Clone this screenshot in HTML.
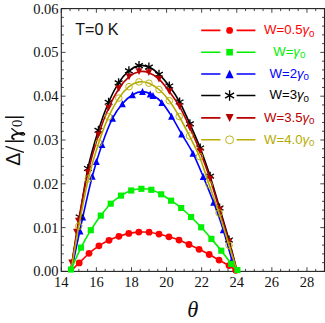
<!DOCTYPE html>
<html><head><meta charset="utf-8"><title>chart</title>
<style>html,body{margin:0;padding:0;background:#fff;overflow:hidden}svg{display:block;position:absolute;left:0;top:0}</style>
</head><body>
<svg width="325" height="323" viewBox="0 0 325 323">
<rect width="325" height="323" fill="#fff"/>
<path d="M61.3 271.4v-4.2M61.3 8.6v4.2M70.07 271.4v-2.5M70.07 8.6v2.5M78.85 271.4v-2.5M78.85 8.6v2.5M87.62 271.4v-2.5M87.62 8.6v2.5M96.39 271.4v-4.2M96.39 8.6v4.2M105.17 271.4v-2.5M105.17 8.6v2.5M113.94 271.4v-2.5M113.94 8.6v2.5M122.71 271.4v-2.5M122.71 8.6v2.5M131.49 271.4v-4.2M131.49 8.6v4.2M140.26 271.4v-2.5M140.26 8.6v2.5M149.03 271.4v-2.5M149.03 8.6v2.5M157.81 271.4v-2.5M157.81 8.6v2.5M166.58 271.4v-4.2M166.58 8.6v4.2M175.35 271.4v-2.5M175.35 8.6v2.5M184.13 271.4v-2.5M184.13 8.6v2.5M192.9 271.4v-2.5M192.9 8.6v2.5M201.67 271.4v-4.2M201.67 8.6v4.2M210.45 271.4v-2.5M210.45 8.6v2.5M219.22 271.4v-2.5M219.22 8.6v2.5M227.99 271.4v-2.5M227.99 8.6v2.5M236.77 271.4v-4.2M236.77 8.6v4.2M245.54 271.4v-2.5M245.54 8.6v2.5M254.31 271.4v-2.5M254.31 8.6v2.5M263.09 271.4v-2.5M263.09 8.6v2.5M271.86 271.4v-4.2M271.86 8.6v4.2M280.63 271.4v-2.5M280.63 8.6v2.5M289.41 271.4v-2.5M289.41 8.6v2.5M298.18 271.4v-2.5M298.18 8.6v2.5M306.95 271.4v-4.2M306.95 8.6v4.2M315.73 271.4v-2.5M315.73 8.6v2.5M324.5 271.4v-2.5M324.5 8.6v2.5M61.3 271.4h4.2M324.5 271.4h-4.2M61.3 262.64h2.5M324.5 262.64h-2.5M61.3 253.88h2.5M324.5 253.88h-2.5M61.3 245.12h2.5M324.5 245.12h-2.5M61.3 236.36h2.5M324.5 236.36h-2.5M61.3 227.6h4.2M324.5 227.6h-4.2M61.3 218.84h2.5M324.5 218.84h-2.5M61.3 210.08h2.5M324.5 210.08h-2.5M61.3 201.32h2.5M324.5 201.32h-2.5M61.3 192.56h2.5M324.5 192.56h-2.5M61.3 183.8h4.2M324.5 183.8h-4.2M61.3 175.04h2.5M324.5 175.04h-2.5M61.3 166.28h2.5M324.5 166.28h-2.5M61.3 157.52h2.5M324.5 157.52h-2.5M61.3 148.76h2.5M324.5 148.76h-2.5M61.3 140h4.2M324.5 140h-4.2M61.3 131.24h2.5M324.5 131.24h-2.5M61.3 122.48h2.5M324.5 122.48h-2.5M61.3 113.72h2.5M324.5 113.72h-2.5M61.3 104.96h2.5M324.5 104.96h-2.5M61.3 96.2h4.2M324.5 96.2h-4.2M61.3 87.44h2.5M324.5 87.44h-2.5M61.3 78.68h2.5M324.5 78.68h-2.5M61.3 69.92h2.5M324.5 69.92h-2.5M61.3 61.16h2.5M324.5 61.16h-2.5M61.3 52.4h4.2M324.5 52.4h-4.2M61.3 43.64h2.5M324.5 43.64h-2.5M61.3 34.88h2.5M324.5 34.88h-2.5M61.3 26.12h2.5M324.5 26.12h-2.5M61.3 17.36h2.5M324.5 17.36h-2.5M61.3 8.6h4.2M324.5 8.6h-4.2" stroke="#333" stroke-width="0.9" fill="none"/>
<rect x="61.3" y="8.6" width="263.2" height="262.8" fill="none" stroke="#222" stroke-width="1.1"/>
<path fill="none" stroke="#0000ff" stroke-width="1.6" stroke-linejoin="round" d="M71.3 271C72.91 263.44 79.86 230.26 82.8 217C85.74 203.74 89.61 186.45 92.3 176.3C94.99 166.15 99.16 152.63 102 144.5C104.84 136.37 109.74 123.9 112.6 118.2C115.46 112.5 119.61 107.08 122.4 103.8C125.19 100.52 129.69 96.51 132.5 94.8C135.31 93.09 139.77 91.6 142.5 91.6C145.23 91.6 149.3 93.29 152 94.8C154.7 96.31 159.07 99.4 161.8 102.4C164.53 105.4 168.73 111.78 171.5 116.2C174.27 120.62 178.6 128.82 181.6 134C184.6 139.18 189.88 147.24 192.9 153.2C195.92 159.16 200.3 169.73 203.2 176.6C206.1 183.47 210.8 194.87 213.6 202.3C216.4 209.73 220.64 221.61 223.2 229.7C225.76 237.79 230.14 254.32 231.9 260.1C233.66 265.88 235.25 269.47 235.8 271"/>
<path d="M82.8 213.51L86.2 220.49L79.4 220.49Z" fill="#0000ff"/>
<path d="M92.3 172.81L95.7 179.79L88.9 179.79Z" fill="#0000ff"/>
<path d="M102 141.01L105.4 147.99L98.6 147.99Z" fill="#0000ff"/>
<path d="M112.6 114.71L116 121.69L109.2 121.69Z" fill="#0000ff"/>
<path d="M122.4 100.31L125.8 107.29L119 107.29Z" fill="#0000ff"/>
<path d="M132.5 91.31L135.9 98.29L129.1 98.29Z" fill="#0000ff"/>
<path d="M142.5 88.11L145.9 95.09L139.1 95.09Z" fill="#0000ff"/>
<path d="M161.8 98.91L165.2 105.89L158.4 105.89Z" fill="#0000ff"/>
<path d="M171.5 112.71L174.9 119.69L168.1 119.69Z" fill="#0000ff"/>
<path d="M181.6 130.51L185 137.49L178.2 137.49Z" fill="#0000ff"/>
<path d="M192.9 149.71L196.3 156.69L189.5 156.69Z" fill="#0000ff"/>
<path d="M203.2 173.11L206.6 180.09L199.8 180.09Z" fill="#0000ff"/>
<path d="M213.6 198.81L217 205.79L210.2 205.79Z" fill="#0000ff"/>
<path d="M223.2 226.21L226.6 233.19L219.8 233.19Z" fill="#0000ff"/>
<path d="M231.9 256.61L235.3 263.59L228.5 263.59Z" fill="#0000ff"/>
<path d="M80.1 227.51L83.5 234.49L76.7 234.49Z" fill="#0000ff"/>
<path d="M96.4 158.01L99.8 164.99L93 164.99Z" fill="#0000ff"/>
<path d="M150.2 90.41L153.6 97.39L146.8 97.39Z" fill="#0000ff"/>
<path d="M153 92.01L156.4 98.99L149.6 98.99Z" fill="#0000ff"/>
<path fill="none" stroke="#000000" stroke-width="1.6" stroke-linejoin="round" d="M70.6 271C71.86 263.44 77.18 231.35 79.6 217C82.02 202.65 85.27 180.64 87.9 168.5C90.53 156.36 95.5 139.57 98.4 130.3C101.3 121.03 105.77 108.94 108.6 102.3C111.43 95.66 115.76 87.3 118.6 82.9C121.44 78.5 126.04 73.32 128.9 70.9C131.76 68.48 136.2 66.13 139 65.6C141.8 65.07 146.1 65.88 148.9 67.1C151.7 68.32 156.14 71.65 159 74.3C161.86 76.95 166.42 82.12 169.3 86C172.18 89.88 176.72 96.69 179.6 102C182.48 107.31 187.02 117.46 189.9 123.9C192.78 130.34 197.37 140.68 200.2 148C203.03 155.32 207.38 167.8 210.1 176.2C212.82 184.6 216.95 199.07 219.6 208C222.25 216.93 226.56 231.18 229 240C231.44 248.82 235.88 266.66 237 271"/>
<path d="M79.6 212.44V221.56M75.73 214.76L83.47 219.24M75.73 219.24L83.47 214.76" stroke="#000000" stroke-width="1.35" fill="none"/>
<path d="M87.9 163.94V173.06M84.03 166.26L91.77 170.74M84.03 170.74L91.77 166.26" stroke="#000000" stroke-width="1.35" fill="none"/>
<path d="M98.4 125.74V134.86M94.53 128.06L102.27 132.54M94.53 132.54L102.27 128.06" stroke="#000000" stroke-width="1.35" fill="none"/>
<path d="M108.6 97.74V106.86M104.73 100.06L112.47 104.54M104.73 104.54L112.47 100.06" stroke="#000000" stroke-width="1.35" fill="none"/>
<path d="M118.6 78.34V87.46M114.73 80.66L122.47 85.14M114.73 85.14L122.47 80.66" stroke="#000000" stroke-width="1.35" fill="none"/>
<path d="M128.9 66.34V75.46M125.03 68.66L132.77 73.14M125.03 73.14L132.77 68.66" stroke="#000000" stroke-width="1.35" fill="none"/>
<path d="M139 61.04V70.16M135.13 63.36L142.87 67.84M135.13 67.84L142.87 63.36" stroke="#000000" stroke-width="1.35" fill="none"/>
<path d="M148.9 62.54V71.66M145.03 64.86L152.77 69.34M145.03 69.34L152.77 64.86" stroke="#000000" stroke-width="1.35" fill="none"/>
<path d="M159 69.74V78.86M155.13 72.06L162.87 76.54M155.13 76.54L162.87 72.06" stroke="#000000" stroke-width="1.35" fill="none"/>
<path d="M169.3 81.44V90.56M165.43 83.76L173.17 88.24M165.43 88.24L173.17 83.76" stroke="#000000" stroke-width="1.35" fill="none"/>
<path d="M179.6 97.44V106.56M175.73 99.76L183.47 104.24M175.73 104.24L183.47 99.76" stroke="#000000" stroke-width="1.35" fill="none"/>
<path d="M189.9 119.34V128.46M186.03 121.66L193.77 126.14M186.03 126.14L193.77 121.66" stroke="#000000" stroke-width="1.35" fill="none"/>
<path d="M200.2 143.44V152.56M196.33 145.76L204.07 150.24M196.33 150.24L204.07 145.76" stroke="#000000" stroke-width="1.35" fill="none"/>
<path d="M210.1 171.64V180.76M206.23 173.96L213.97 178.44M206.23 178.44L213.97 173.96" stroke="#000000" stroke-width="1.35" fill="none"/>
<path d="M219.6 203.44V212.56M215.73 205.76L223.47 210.24M215.73 210.24L223.47 205.76" stroke="#000000" stroke-width="1.35" fill="none"/>
<path d="M229 235.44V244.56M225.13 237.76L232.87 242.24M225.13 242.24L232.87 237.76" stroke="#000000" stroke-width="1.35" fill="none"/>
<path fill="none" stroke="#b80000" stroke-width="1.6" stroke-linejoin="round" d="M70.8 271C71.88 264.03 76.11 234.96 78.5 221.2C80.89 207.44 85.11 184.77 87.9 172.7C90.69 160.63 95.5 144.06 98.4 135C101.3 125.94 105.74 114.48 108.6 108C111.46 101.52 115.94 93.07 118.8 88.7C121.66 84.33 126.17 79.18 129 76.8C131.83 74.42 136.21 72.27 139 71.7C141.79 71.13 146.1 71.65 148.9 72.7C151.7 73.75 156.14 76.57 159 79.2C161.86 81.83 166.42 87.65 169.3 91.5C172.18 95.35 176.72 101.62 179.6 106.7C182.48 111.78 187.02 121.51 189.9 127.8C192.78 134.09 197.37 144.43 200.2 151.6C203.03 158.77 207.38 170.82 210.1 179C212.82 187.18 216.95 201.18 219.6 210C222.25 218.82 226.56 233.46 229 242C231.44 250.54 235.88 266.94 237 271"/>
<path d="M78.5 224.56L81.86 217.84L75.14 217.84Z" fill="#b80000"/>
<path d="M87.9 176.06L91.26 169.34L84.54 169.34Z" fill="#b80000"/>
<path d="M98.4 138.36L101.76 131.64L95.04 131.64Z" fill="#b80000"/>
<path d="M108.6 111.36L111.96 104.64L105.24 104.64Z" fill="#b80000"/>
<path d="M118.8 92.06L122.16 85.34L115.44 85.34Z" fill="#b80000"/>
<path d="M129 80.16L132.36 73.44L125.64 73.44Z" fill="#b80000"/>
<path d="M139 75.06L142.36 68.34L135.64 68.34Z" fill="#b80000"/>
<path d="M148.9 76.06L152.26 69.34L145.54 69.34Z" fill="#b80000"/>
<path d="M159 82.56L162.36 75.84L155.64 75.84Z" fill="#b80000"/>
<path d="M169.3 94.86L172.66 88.14L165.94 88.14Z" fill="#b80000"/>
<path d="M179.6 110.06L182.96 103.34L176.24 103.34Z" fill="#b80000"/>
<path d="M189.9 131.16L193.26 124.44L186.54 124.44Z" fill="#b80000"/>
<path d="M200.2 154.96L203.56 148.24L196.84 148.24Z" fill="#b80000"/>
<path d="M210.1 182.36L213.46 175.64L206.74 175.64Z" fill="#b80000"/>
<path d="M219.6 213.36L222.96 206.64L216.24 206.64Z" fill="#b80000"/>
<path d="M229 245.36L232.36 238.64L225.64 238.64Z" fill="#b80000"/>
<path d="M76.4 235.36L79.76 228.64L73.04 228.64Z" fill="#b80000"/>
<path d="M71.6 266.16L74.96 259.44L68.24 259.44Z" fill="#b80000"/>
<path fill="none" stroke="#b6ab00" stroke-width="1.6" stroke-linejoin="round" d="M71 271C72.09 264.73 76.36 239.11 78.8 226.2C81.24 213.29 85.61 190.45 88.4 178.8C91.19 167.15 95.87 151.69 98.7 143C101.53 134.31 105.79 122.99 108.6 116.7C111.41 110.41 115.94 102.3 118.8 98.1C121.66 93.9 126.17 88.97 129 86.7C131.83 84.43 136.21 82.39 139 81.9C141.79 81.41 146.1 82.14 148.9 83.2C151.7 84.26 156.14 87.05 159 89.5C161.86 91.95 166.47 96.92 169.3 100.7C172.13 104.48 176.37 111.56 179.2 116.5C182.03 121.44 186.66 130.4 189.5 136C192.34 141.6 196.76 149.7 199.5 156.5C202.24 163.3 206.36 176.7 209.1 184.6C211.84 192.5 216.31 204.4 219.1 212.9C221.89 221.4 226.49 237.17 229 245.3C231.51 253.43 235.88 267.4 237 271"/>
<circle cx="78.8" cy="226.2" r="3.32" fill="none" stroke="#b6ab00" stroke-width="0.9"/>
<circle cx="88.4" cy="178.8" r="3.32" fill="none" stroke="#b6ab00" stroke-width="0.9"/>
<circle cx="98.7" cy="143" r="3.32" fill="none" stroke="#b6ab00" stroke-width="0.9"/>
<circle cx="108.6" cy="116.7" r="3.32" fill="none" stroke="#b6ab00" stroke-width="0.9"/>
<circle cx="118.8" cy="98.1" r="3.32" fill="none" stroke="#b6ab00" stroke-width="0.9"/>
<circle cx="129" cy="86.7" r="3.32" fill="none" stroke="#b6ab00" stroke-width="0.9"/>
<circle cx="139" cy="81.9" r="3.32" fill="none" stroke="#b6ab00" stroke-width="0.9"/>
<circle cx="148.9" cy="83.2" r="3.32" fill="none" stroke="#b6ab00" stroke-width="0.9"/>
<circle cx="159" cy="89.5" r="3.32" fill="none" stroke="#b6ab00" stroke-width="0.9"/>
<circle cx="169.3" cy="100.7" r="3.32" fill="none" stroke="#b6ab00" stroke-width="0.9"/>
<circle cx="179.2" cy="116.5" r="3.32" fill="none" stroke="#b6ab00" stroke-width="0.9"/>
<circle cx="189.5" cy="136" r="3.32" fill="none" stroke="#b6ab00" stroke-width="0.9"/>
<circle cx="199.5" cy="156.5" r="3.32" fill="none" stroke="#b6ab00" stroke-width="0.9"/>
<circle cx="209.1" cy="184.6" r="3.32" fill="none" stroke="#b6ab00" stroke-width="0.9"/>
<circle cx="219.1" cy="212.9" r="3.32" fill="none" stroke="#b6ab00" stroke-width="0.9"/>
<circle cx="229" cy="245.3" r="3.32" fill="none" stroke="#b6ab00" stroke-width="0.9"/>
<path fill="none" stroke="#ff0000" stroke-width="1.6" stroke-linejoin="round" d="M71.5 270.5C72.58 269.44 76.75 265.31 79.2 262.9C81.65 260.49 86.24 255.69 89 253.3C91.76 250.91 96.1 247.62 98.9 245.8C101.7 243.98 106.2 241.63 109 240.3C111.8 238.97 116.13 237.27 118.9 236.3C121.67 235.33 126.01 233.99 128.8 233.4C131.59 232.81 135.96 232.27 138.8 232.1C141.64 231.93 146.27 231.92 149.1 232.2C151.93 232.48 156.23 233.46 159 234.1C161.77 234.74 166.1 235.96 168.9 236.8C171.7 237.64 176.19 239.02 179 240.1C181.81 241.18 186.19 243.21 189 244.5C191.81 245.79 196.27 247.9 199.1 249.3C201.93 250.7 206.4 252.99 209.2 254.5C212 256.01 216.33 258.55 219.1 260.1C221.87 261.65 226.68 264.17 229 265.6C231.32 267.03 234.76 269.64 235.7 270.3"/>
<circle cx="79.2" cy="262.9" r="3.4" fill="#ff0000"/>
<circle cx="89" cy="253.3" r="3.4" fill="#ff0000"/>
<circle cx="98.9" cy="245.8" r="3.4" fill="#ff0000"/>
<circle cx="109" cy="240.3" r="3.4" fill="#ff0000"/>
<circle cx="118.9" cy="236.3" r="3.4" fill="#ff0000"/>
<circle cx="128.8" cy="233.4" r="3.4" fill="#ff0000"/>
<circle cx="138.8" cy="232.1" r="3.4" fill="#ff0000"/>
<circle cx="149.1" cy="232.2" r="3.4" fill="#ff0000"/>
<circle cx="159" cy="234.1" r="3.4" fill="#ff0000"/>
<circle cx="168.9" cy="236.8" r="3.4" fill="#ff0000"/>
<circle cx="179" cy="240.1" r="3.4" fill="#ff0000"/>
<circle cx="189" cy="244.5" r="3.4" fill="#ff0000"/>
<circle cx="199.1" cy="249.3" r="3.4" fill="#ff0000"/>
<circle cx="209.2" cy="254.5" r="3.4" fill="#ff0000"/>
<circle cx="219.1" cy="260.1" r="3.4" fill="#ff0000"/>
<circle cx="229" cy="265.6" r="3.4" fill="#ff0000"/>
<circle cx="235.7" cy="270.3" r="3.4" fill="#ff0000"/>
<path fill="none" stroke="#00f000" stroke-width="1.6" stroke-linejoin="round" d="M71 269.5C72.4 266.43 78.23 253.1 81 247.6C83.77 242.1 88.03 234.68 90.8 230.2C93.57 225.72 98.01 219.31 100.8 215.6C103.59 211.89 107.87 206.5 110.7 203.7C113.53 200.9 118.13 197.45 121 195.6C123.87 193.75 128.34 191.45 131.2 190.5C134.06 189.55 138.59 188.9 141.4 188.8C144.21 188.7 148.53 189.03 151.3 189.8C154.07 190.57 158.43 192.77 161.2 194.3C163.97 195.83 168.3 198.78 171.1 200.7C173.9 202.62 178.4 205.72 181.2 208C184 210.28 188.3 214.3 191.1 217C193.9 219.7 198.36 224.23 201.2 227.3C204.04 230.37 208.59 235.62 211.4 238.9C214.21 242.18 218.53 247.2 221.3 250.7C224.07 254.2 228.95 261.2 231.2 263.9C233.45 266.6 236.53 269.15 237.4 270"/>
<rect x="67.93" y="266.43" width="6.14" height="6.14" fill="#00f000"/>
<rect x="77.93" y="244.53" width="6.14" height="6.14" fill="#00f000"/>
<rect x="87.73" y="227.13" width="6.14" height="6.14" fill="#00f000"/>
<rect x="97.73" y="212.53" width="6.14" height="6.14" fill="#00f000"/>
<rect x="107.63" y="200.63" width="6.14" height="6.14" fill="#00f000"/>
<rect x="117.93" y="192.53" width="6.14" height="6.14" fill="#00f000"/>
<rect x="128.13" y="187.43" width="6.14" height="6.14" fill="#00f000"/>
<rect x="138.33" y="185.73" width="6.14" height="6.14" fill="#00f000"/>
<rect x="148.23" y="186.73" width="6.14" height="6.14" fill="#00f000"/>
<rect x="158.13" y="191.23" width="6.14" height="6.14" fill="#00f000"/>
<rect x="168.03" y="197.63" width="6.14" height="6.14" fill="#00f000"/>
<rect x="178.13" y="204.93" width="6.14" height="6.14" fill="#00f000"/>
<rect x="188.03" y="213.93" width="6.14" height="6.14" fill="#00f000"/>
<rect x="198.13" y="224.23" width="6.14" height="6.14" fill="#00f000"/>
<rect x="208.33" y="235.83" width="6.14" height="6.14" fill="#00f000"/>
<rect x="218.23" y="247.63" width="6.14" height="6.14" fill="#00f000"/>
<rect x="228.13" y="260.83" width="6.14" height="6.14" fill="#00f000"/>
<rect x="234.33" y="266.93" width="6.14" height="6.14" fill="#00f000"/>
<path d="M201.2 30.4H220.4M236.6 30.4H255.4" stroke="#ff0000" stroke-width="1.6"/>
<circle cx="229.6" cy="30.4" r="3.4" fill="#ff0000"/>
<text x="289.3" y="34.1" text-anchor="middle" font-family="Liberation Sans, sans-serif" font-size="13.2" fill="#ff0000">W=0.5<tspan font-style="italic">γ</tspan><tspan font-size="9.8" dy="2.4">0</tspan></text>
<path d="M201.2 52.2H220.4M236.6 52.2H255.4" stroke="#00f000" stroke-width="1.6"/>
<rect x="226.3" y="48.9" width="6.6" height="6.6" fill="#00f000"/>
<text x="289.3" y="55.9" text-anchor="middle" font-family="Liberation Sans, sans-serif" font-size="13.2" fill="#00f000">W=<tspan font-style="italic">γ</tspan><tspan font-size="9.8" dy="2.4">0</tspan></text>
<path d="M201.2 74H220.4M236.6 74H255.4" stroke="#0000ff" stroke-width="1.6"/>
<path d="M229.6 69.8L233.7 78.2L225.5 78.2Z" fill="#0000ff"/>
<text x="289.3" y="77.7" text-anchor="middle" font-family="Liberation Sans, sans-serif" font-size="13.2" fill="#0000ff">W=2<tspan font-style="italic">γ</tspan><tspan font-size="9.8" dy="2.4">0</tspan></text>
<path d="M201.2 95.5H220.4M236.6 95.5H255.4" stroke="#000000" stroke-width="1.6"/>
<path d="M229.6 90.2V100.8M225.1 92.9L234.1 98.1M225.1 98.1L234.1 92.9" stroke="#000000" stroke-width="1.35" fill="none"/>
<text x="289.3" y="99.2" text-anchor="middle" font-family="Liberation Sans, sans-serif" font-size="13.2" fill="#000000">W=3<tspan font-style="italic">γ</tspan><tspan font-size="9.8" dy="2.4">0</tspan></text>
<path d="M201.2 117.9H220.4M236.6 117.9H255.4" stroke="#b80000" stroke-width="1.6"/>
<path d="M229.6 121.9L233.6 113.9L225.6 113.9Z" fill="#b80000"/>
<text x="289.3" y="121.6" text-anchor="middle" font-family="Liberation Sans, sans-serif" font-size="13.2" fill="#b80000">W=3.5<tspan font-style="italic">γ</tspan><tspan font-size="9.8" dy="2.4">0</tspan></text>
<path d="M201.2 139.8H220.4M236.6 139.8H255.4" stroke="#b6ab00" stroke-width="1.6"/>
<circle cx="229.6" cy="139.8" r="3.95" fill="none" stroke="#b6ab00" stroke-width="0.9"/>
<text x="289.3" y="143.5" text-anchor="middle" font-family="Liberation Sans, sans-serif" font-size="13.2" fill="#b6ab00">W=4.0<tspan font-style="italic">γ</tspan><tspan font-size="9.8" dy="2.4">0</tspan></text>
<text x="58.6" y="276.3" text-anchor="end" font-family="Liberation Serif, serif" font-size="14.5" fill="#111">0.00</text>
<text x="58.6" y="232.5" text-anchor="end" font-family="Liberation Serif, serif" font-size="14.5" fill="#111">0.01</text>
<text x="58.6" y="188.7" text-anchor="end" font-family="Liberation Serif, serif" font-size="14.5" fill="#111">0.02</text>
<text x="58.6" y="144.9" text-anchor="end" font-family="Liberation Serif, serif" font-size="14.5" fill="#111">0.03</text>
<text x="58.6" y="101.1" text-anchor="end" font-family="Liberation Serif, serif" font-size="14.5" fill="#111">0.04</text>
<text x="58.6" y="57.3" text-anchor="end" font-family="Liberation Serif, serif" font-size="14.5" fill="#111">0.05</text>
<text x="58.6" y="13.5" text-anchor="end" font-family="Liberation Serif, serif" font-size="14.5" fill="#111">0.06</text>
<text x="61.3" y="287" text-anchor="middle" font-family="Liberation Serif, serif" font-size="14.5" fill="#111">14</text>
<text x="96.39" y="287" text-anchor="middle" font-family="Liberation Serif, serif" font-size="14.5" fill="#111">16</text>
<text x="131.49" y="287" text-anchor="middle" font-family="Liberation Serif, serif" font-size="14.5" fill="#111">18</text>
<text x="166.58" y="287" text-anchor="middle" font-family="Liberation Serif, serif" font-size="14.5" fill="#111">20</text>
<text x="201.67" y="287" text-anchor="middle" font-family="Liberation Serif, serif" font-size="14.5" fill="#111">22</text>
<text x="236.77" y="287" text-anchor="middle" font-family="Liberation Serif, serif" font-size="14.5" fill="#111">24</text>
<text x="271.86" y="287" text-anchor="middle" font-family="Liberation Serif, serif" font-size="14.5" fill="#111">26</text>
<text x="306.95" y="287" text-anchor="middle" font-family="Liberation Serif, serif" font-size="14.5" fill="#111">28</text>
<text x="192.8" y="316.6" text-anchor="middle" font-family="Liberation Serif, serif" font-style="italic" font-size="22.5" fill="#111">θ</text>
<text x="75.2" y="35" textLength="43.4" lengthAdjust="spacingAndGlyphs" font-family="Liberation Sans, sans-serif" font-size="15.8" fill="#111">T=0 K</text>
<g transform="translate(19.5 166) rotate(-90)" fill="#111"><text x="0.2" y="0" font-family="Liberation Sans, sans-serif" font-size="19.5">Δ</text><path d="M13.6 4.4L19.6 -14" stroke="#111" stroke-width="1.5" fill="none"/><text x="22.3" y="0" font-family="Liberation Sans, sans-serif" font-size="19.5">|</text><path d="M26.9 -5.6C27.6 -8 30.4 -8.3 31.4 -5.2C32.5 -2 33.2 1 33 3.6" fill="none" stroke="#111" stroke-width="1.9" stroke-linecap="round"/><path d="M33 3.6C32.8 5.8 31 5.8 31 3.6C31 0.8 34.2 -4 37.4 -7.8" fill="none" stroke="#111" stroke-width="1.25" stroke-linecap="round"/><text x="39" y="2.2" font-family="Liberation Serif, serif" font-size="14.5">0</text><text x="46.2" y="0" font-family="Liberation Sans, sans-serif" font-size="19.5">|</text></g>
</svg>
</body></html>
